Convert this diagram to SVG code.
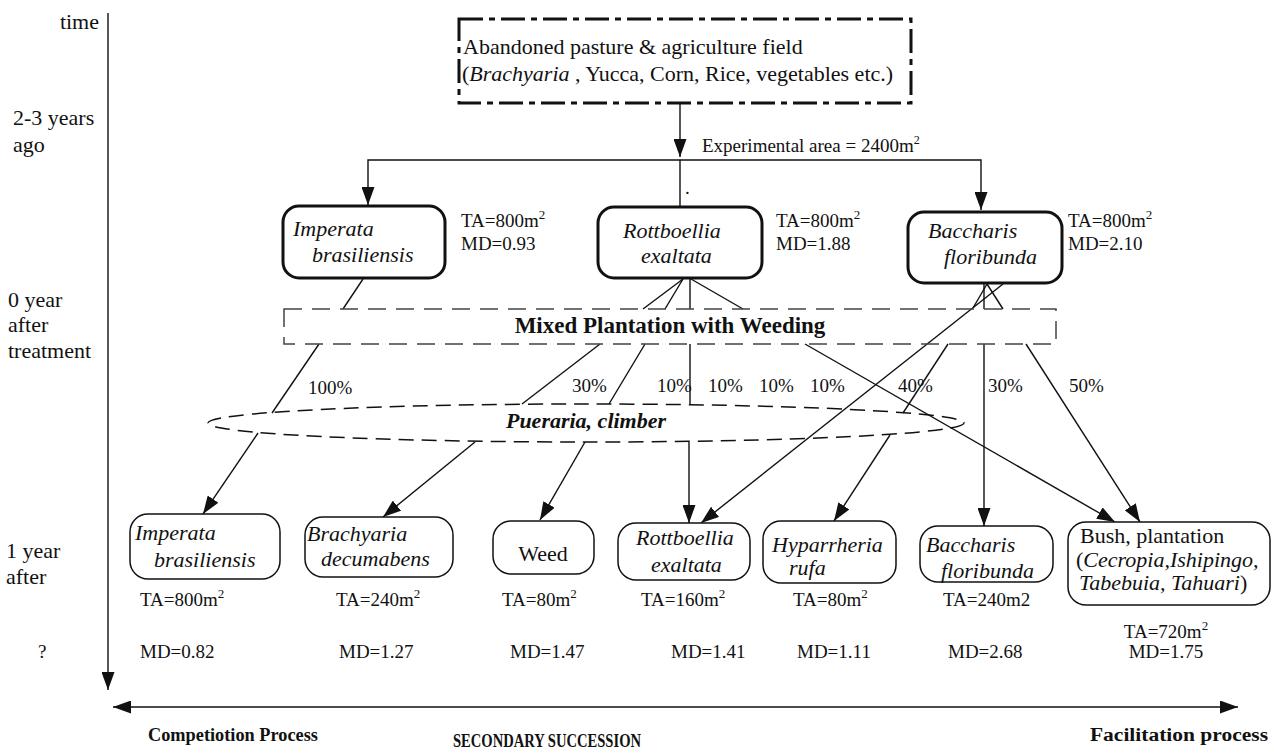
<svg xmlns="http://www.w3.org/2000/svg" width="1274" height="753" viewBox="0 0 1274 753">
<style>
text{font-family:"Liberation Serif","Times New Roman",serif;fill:#111}
.s{font-size:19px}
.l{font-size:22px}
.i{font-size:22px;font-style:italic}
.b{font-weight:bold}
.ln{stroke:#111;stroke-width:1.4;fill:none}
.bx1{fill:#fff;stroke:#111;stroke-width:3}
.bx2{fill:#fff;stroke:#111;stroke-width:1.5}
</style>
<defs>
<marker id="ah" markerUnits="userSpaceOnUse" markerWidth="18" markerHeight="13" refX="18" refY="6.5" orient="auto-start-reverse"><path d="M0,0 L18,6.5 L0,13 z" fill="#111"/></marker>
</defs>
<rect width="1274" height="753" fill="#fff"/>

<g id="time-axis">
<line class="ln" x1="108" y1="13" x2="108" y2="690" marker-end="url(#ah)"/>
<text class="l" x="99" y="29" text-anchor="end">time</text>
<text class="l" x="13" y="125">2-3 years</text>
<text class="l" x="13" y="152">ago</text>
<text class="l" x="8" y="307">0 year</text>
<text class="l" x="8" y="332">after</text>
<text class="l" x="8" y="358">treatment</text>
<text class="l" x="6" y="558">1 year</text>
<text class="l" x="6" y="584">after</text>
<text class="s" x="38" y="658">?</text>
</g>

<g id="succession-axis">
<line class="ln" x1="113" y1="707" x2="1238" y2="707" stroke-width="2" marker-start="url(#ah)" marker-end="url(#ah)"/>
<text class="b" font-size="18" x="148" y="741" textLength="170" lengthAdjust="spacingAndGlyphs">Competiotion Process</text>
<text class="b" font-size="18" x="453" y="747" textLength="188" lengthAdjust="spacingAndGlyphs">SECONDARY SUCCESSION</text>
<text class="b" font-size="18" x="1090" y="741" textLength="178" lengthAdjust="spacingAndGlyphs">Facilitation process</text>
</g>

<g id="connectors">
<line class="ln" x1="680" y1="104" x2="680" y2="157" marker-end="url(#ah)"/>
<polyline class="ln" points="368,205 368,160 981,160 981,210" marker-start="url(#ah)" marker-end="url(#ah)"/>
<line class="ln" x1="680" y1="160" x2="680" y2="207"/>
<line class="ln" x1="363" y1="279" x2="343" y2="309"/>
<line class="ln" x1="683" y1="279" x2="643" y2="309"/>
<line class="ln" x1="683" y1="279" x2="665" y2="309"/>
<line class="ln" x1="690" y1="279" x2="690" y2="309"/>
<line class="ln" x1="691" y1="279" x2="743" y2="309"/>
<line class="ln" x1="987" y1="284" x2="973" y2="308"/>
<line class="ln" x1="984" y1="284" x2="984" y2="309"/>
<line class="ln" x1="987" y1="284" x2="1003" y2="309"/>
<line class="ln" x1="1003" y1="284" x2="701" y2="523" marker-end="url(#ah)"/>
<line class="ln" x1="319" y1="344" x2="272" y2="413"/>
<line class="ln" x1="600" y1="344" x2="522" y2="404"/>
<line class="ln" x1="645" y1="344" x2="609" y2="404"/>
<line class="ln" x1="690" y1="344" x2="690" y2="404"/>
<line class="ln" x1="948" y1="344" x2="903" y2="413"/>
<line class="ln" x1="805" y1="344" x2="1115" y2="522" marker-end="url(#ah)"/>
<line class="ln" x1="984" y1="344" x2="984" y2="526" marker-end="url(#ah)"/>
<line class="ln" x1="1026" y1="344" x2="1140" y2="522" marker-end="url(#ah)"/>
<line class="ln" x1="258" y1="433" x2="203" y2="514" marker-end="url(#ah)"/>
<line class="ln" x1="475" y1="442" x2="383" y2="517" marker-end="url(#ah)"/>
<line class="ln" x1="585" y1="442" x2="540" y2="520" marker-end="url(#ah)"/>
<line class="ln" x1="689" y1="442" x2="689" y2="523" marker-end="url(#ah)"/>
<line class="ln" x1="890" y1="435" x2="834" y2="521" marker-end="url(#ah)"/>
<text class="s" x="702" y="152" font-size="18">Experimental area = 2400m<tspan font-size="12" dy="-8">2</tspan></text>
<text class="s" x="685" y="194">.</text>
<text class="s" x="308" y="394">100%</text>
<text class="s" x="572" y="392">30%</text>
<text class="s" x="657" y="392">10%</text>
<text class="s" x="708" y="392">10%</text>
<text class="s" x="759" y="392">10%</text>
<text class="s" x="810" y="392">10%</text>
<text class="s" x="898" y="392">40%</text>
<text class="s" x="988" y="392">30%</text>
<text class="s" x="1069" y="392">50%</text>
</g>

<g id="abandoned-field">
<rect x="459" y="19" width="452" height="84" fill="none" stroke="#111" stroke-width="3" stroke-dasharray="24 6 6 6"/>
<text class="l" x="463" y="54">Abandoned pasture &amp; agriculture field</text>
<text class="l" x="462" y="81">(<tspan font-style="italic">Brachyaria</tspan> , Yucca, Corn, Rice, vegetables etc.)</text>
</g>

<g id="imperata-0">
<rect class="bx1" x="283" y="206" width="162" height="72" rx="16"/>
<text class="i" x="293" y="236">Imperata</text>
<text class="i" x="312" y="262">brasiliensis</text>
<text class="s" x="461" y="227">TA=800m<tspan font-size="13" dy="-8">2</tspan></text>
<text class="s" x="461" y="250">MD=0.93</text>
</g>
<g id="rottboellia-0">
<rect class="bx1" x="598" y="207" width="164" height="71" rx="16"/>
<text class="i" x="623" y="238">Rottboellia</text>
<text class="i" x="641" y="263">exaltata</text>
<text class="s" x="776" y="227">TA=800m<tspan font-size="13" dy="-8">2</tspan></text>
<text class="s" x="776" y="250">MD=1.88</text>
</g>
<g id="baccharis-0">
<rect class="bx1" x="908" y="212" width="154" height="71" rx="16"/>
<text class="i" x="928" y="238">Baccharis</text>
<text class="i" x="944" y="264">floribunda</text>
<text class="s" x="1068" y="227">TA=800m<tspan font-size="13" dy="-8">2</tspan></text>
<text class="s" x="1068" y="250">MD=2.10</text>
</g>

<g id="mixed-plantation">
<rect x="284" y="309" width="772" height="35" fill="none" stroke="#444" stroke-width="1.5" stroke-dasharray="18 10"/>
<text class="b" font-size="23" x="670" y="333" text-anchor="middle">Mixed Plantation with Weeding</text>
</g>

<g id="pueraria">
<ellipse cx="586" cy="423" rx="378" ry="19" fill="none" stroke="#111" stroke-width="1.5" stroke-dasharray="15 8"/>
<text class="b i" x="586" y="428" text-anchor="middle">Pueraria, climber</text>
</g>

<g id="imperata-1">
<rect class="bx2" x="130" y="514" width="150" height="65" rx="18"/>
<text class="i" x="135" y="540">Imperata</text>
<text class="i" x="154" y="567">brasiliensis</text>
<text class="s" x="140" y="606">TA=800m<tspan font-size="13" dy="-8">2</tspan></text>
<text class="s" x="140" y="658">MD=0.82</text>
</g>
<g id="brachyaria-1">
<rect class="bx2" x="305" y="517" width="148" height="60" rx="18"/>
<text class="i" x="307" y="541">Brachyaria</text>
<text class="i" x="321" y="566">decumabens</text>
<text class="s" x="336" y="606">TA=240m<tspan font-size="13" dy="-8">2</tspan></text>
<text class="s" x="339" y="658">MD=1.27</text>
</g>
<g id="weed-1">
<rect class="bx2" x="493" y="521" width="101" height="53" rx="18"/>
<text class="l" x="543" y="561" text-anchor="middle">Weed</text>
<text class="s" x="502" y="606">TA=80m<tspan font-size="13" dy="-8">2</tspan></text>
<text class="s" x="510" y="658">MD=1.47</text>
</g>
<g id="rottboellia-1">
<rect class="bx2" x="618" y="523" width="132" height="57" rx="18"/>
<text class="i" x="636" y="545">Rottboellia</text>
<text class="i" x="651" y="572">exaltata</text>
<text class="s" x="641" y="606">TA=160m<tspan font-size="13" dy="-8">2</tspan></text>
<text class="s" x="671" y="658">MD=1.41</text>
</g>
<g id="hyparrheria-1">
<rect class="bx2" x="763" y="521" width="133" height="62" rx="18"/>
<text class="i" x="772" y="552">Hyparrheria</text>
<text class="i" x="789" y="575">rufa</text>
<text class="s" x="793" y="606">TA=80m<tspan font-size="13" dy="-8">2</tspan></text>
<text class="s" x="797" y="658">MD=1.11</text>
</g>
<g id="baccharis-1">
<rect class="bx2" x="920" y="526" width="133" height="56" rx="18"/>
<text class="i" x="926" y="552">Baccharis</text>
<text class="i" x="941" y="578">floribunda</text>
<text class="s" x="943" y="606">TA=240m2</text>
<text class="s" x="948" y="658">MD=2.68</text>
</g>
<g id="bush-1">
<rect class="bx2" x="1068" y="522" width="202" height="83" rx="18"/>
<text class="l" x="1080" y="543">Bush, plantation</text>
<text class="l" x="1076" y="567">(<tspan font-style="italic">Cecropia,Ishipingo,</tspan></text>
<text class="i" x="1079" y="590">Tabebuia, Tahuari<tspan font-style="normal">)</tspan></text>
<text class="s" x="1166" y="638" text-anchor="middle">TA=720m<tspan font-size="13" dy="-8">2</tspan></text>
<text class="s" x="1166" y="658" text-anchor="middle">MD=1.75</text>
</g>
</svg>
